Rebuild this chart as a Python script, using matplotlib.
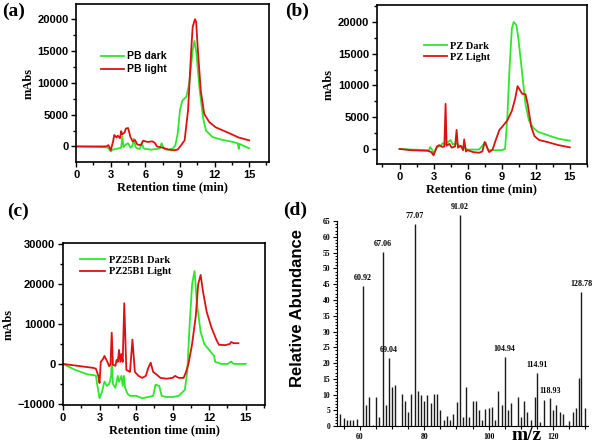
import numpy as np
import matplotlib
matplotlib.use("Agg")
import matplotlib.pyplot as plt
from matplotlib.ticker import MultipleLocator

GREEN = "#2ee62e"
RED = "#dd1111"
SERIF = "Liberation Serif"
SANS = "Liberation Sans"

# ---- (a) PB ----
a_t_dark = [0, 1, 2, 2.7, 2.85, 3.0, 3.15, 3.4, 3.7, 3.9, 4.0, 4.1, 4.3, 4.5, 4.7,
            4.85, 5.0, 5.15, 5.3, 5.5, 5.7, 5.85, 6.0, 6.5, 7.0, 7.25, 7.4, 7.6, 7.8,
            8.0, 8.4, 8.6, 8.8, 9.0, 9.2, 9.55, 9.8, 10.1, 10.25, 10.4, 10.7, 11.0,
            11.25, 11.8, 12.5, 13.6, 14.0, 14.1, 14.15, 15.0]
a_y_dark = [0, -50, -100, -150, -400, -800, -500, -400, -300, -200, 1600, -100, 300,
            500, -200, 0, 1200, -100, -300, -400, 500, -300, -400, -500, -400, -300,
            500, -300, -500, -500, -300, 200, 2000, 5700, 7200, 7800, 9900, 15100,
            16600, 15000, 9000, 4500, 2500, 1500, 1100, 700, 500, -400, 400, -300]
a_t_light = [0, 1, 2, 2.6, 2.8, 3.0, 3.2, 3.3, 3.5, 3.6, 3.8, 3.9, 4.0, 4.2, 4.3,
             4.5, 4.7, 4.9, 5.1, 5.3, 5.6, 5.8, 6.2, 6.6, 6.8, 7.0, 7.5, 8.0, 8.5,
             8.8, 9.1, 9.4, 9.7, 9.97, 10.1, 10.3, 10.4, 10.55, 10.8, 11.1, 11.55,
             12.1, 13.0, 14.1, 15.0]
a_y_light = [0, 0, 0, 0, 200, -600, 800, 1800, 1400, 1700, 1300, 2400, 1900, 2200,
             2800, 2900, 1500, 800, 1000, 300, 200, 900, 700, 800, 600, 0, -200, -500,
             -600, -500, 200, 950, 5700, 15100, 18800, 20000, 19600, 15100, 8800,
             5100, 3800, 3000, 2300, 1400, 950]

# ---- (b) PZ ----
b_t_dark = [0, 1, 2, 2.6, 2.7, 2.9, 3.0, 3.3, 3.6, 3.8, 4.0, 4.2, 4.5, 4.7, 5.0,
            5.3, 5.6, 6.0, 6.5, 7.0, 7.4, 7.6, 7.8, 8.0, 8.5, 9.0, 9.3, 9.5, 9.7,
            9.9, 10.06, 10.3, 10.5, 10.8, 11.1, 11.4, 11.8, 12.2, 13.0, 14.0, 15.0]
b_y_dark = [0, -100, -150, -200, 300, -200, -800, 300, 400, 900, 700, 1000, 1400,
            700, 900, 500, 300, -100, -100, -100, 700, 1000, -200, -200, -200, -200,
            0, 5000, 13000, 19000, 20000, 19500, 17000, 12000, 7000, 4500, 3300,
            2700, 2200, 1600, 1300]
b_t_light = [0, 1, 2.5, 2.8, 3.0, 3.3, 3.5, 3.8, 3.95, 4.06, 4.15, 4.4, 4.6, 4.9,
             5.03, 5.15, 5.4, 5.6, 5.7, 5.85, 6.0, 6.5, 7.0, 7.3, 7.5, 7.7, 7.9, 8.2,
             8.5, 8.8, 9.1, 9.5, 9.9, 10.2, 10.4, 10.6, 10.8, 11.1, 11.3, 11.6, 11.9,
             12.3, 13.0, 14.0, 15.0]
b_y_light = [0, -200, -300, -500, -1000, 400, 600, 300, 400, 7100, 500, 800, 200,
             400, 3000, 200, 500, -200, 1500, -400, -200, -500, -600, -400, 1100, 300,
             -500, -100, 1500, 3000, 3600, 4500, 6000, 8000, 9900, 9300, 8700, 8600,
             7000, 3500, 2000, 1400, 1100, 600, 250]

# ---- (c) PZ25B1 ----
c_t_dark = [0, 1, 2, 2.7, 2.8, 3.0, 3.2, 3.4, 3.6, 3.8, 3.95, 4.0, 4.1, 4.3, 4.5,
            4.6, 4.8, 4.9, 5.0, 5.1, 5.3, 5.5, 6.0, 6.5, 7.0, 7.4, 7.6, 7.9, 8.1,
            8.5, 9.0, 9.5, 10.0, 10.2, 10.4, 10.6, 10.8, 11.0, 11.3, 11.6, 12.0,
            12.4, 12.5, 13.0, 13.5, 13.8, 14.0, 15.0]
c_y_dark = [0, -1500, -2600, -2900, -5000, -8600, -7000, -4400, -5500, -5000, -3000,
            1000, -5000, -6000, -3000, -4500, -3000, -5500, -3000, -6000, -7500, -8000,
            -8000, -8600, -8300, -8000, -5200, -5500, -8000, -8300, -8300, -8000,
            -6500, -2000, 10000, 20000, 23300, 15000, 8000, 5000, 3500, 2000, 500, 0,
            0, 600, 0, 0]
c_t_light = [0, 1, 2, 2.5, 2.7, 2.9, 3.0, 3.1, 3.3, 3.4, 3.6, 3.8, 3.9, 4.0, 4.1,
             4.3, 4.4, 4.5, 4.6, 4.7, 4.8, 4.9, 5.03, 5.2, 5.5, 5.7, 5.9, 6.2, 6.5,
             6.8, 7.0, 7.2, 7.4, 7.7, 8.0, 8.5, 9.0, 9.2, 9.5, 9.9, 10.1, 10.3, 10.6,
             10.9, 11.1, 11.3, 11.5, 11.8, 12.2, 12.6, 12.8, 13.3, 13.7, 13.8, 14.0,
             14.4]
c_y_light = [0, -400, -800, -1000, -1200, -3000, -4800, 500, 1300, 2000, 800, -600,
             0, 7800, -200, -500, 1000, 500, 3500, 500, 2500, 500, 15200, -1500,
             -2000, 6100, -2000, -3000, -3500, -3000, -1000, 300, -2000, -2700, -3500,
             -3700, -3500, -3000, -3500, -3500, -2000, 0, 5000, 12000, 20000, 22300,
             18000, 13000, 9000, 6000, 4800, 4700, 5000, 5500, 5200, 5200]

# ---- (d) mass spectrum ----
mz = [54, 55, 56, 57, 58, 59, 60.92, 62, 63, 64, 65, 66, 67.06, 68, 69.04, 70, 71,
      73, 74, 75, 76, 77.07, 78, 79, 80, 81, 82, 83, 84, 85, 86, 87, 88, 89, 90.3,
      91.02, 92, 93, 94, 95, 96, 97, 98, 99, 100, 101, 102, 103, 104, 104.94, 106,
      107, 109, 110, 111, 112, 113, 114.5, 114.91, 116, 117, 118.93, 120, 121, 122,
      123, 124, 125, 126, 127, 128, 128.78, 130]
abund = [3.7, 2.6, 2.1, 2.1, 2.1, 2.3, 44.5, 6.6, 9.4, 0.4, 9.4, 3.0, 55.2, 6.6,
         21.6, 12.4, 13.2, 10.3, 8.0, 4.4, 10.2, 64.2, 11.2, 9.8, 8.0, 9.8, 7.4, 10.1,
         10.1, 5.0, 1.8, 3.3, 1.8, 4.0, 7.8, 67.0, 3.0, 12.3, 3.0, 7.9, 7.9, 5.1, 2.1,
         5.4, 5.9, 6.2, 2.1, 11.0, 6.7, 21.9, 5.1, 7.4, 9.4, 3.0, 8.0, 4.4, 2.1, 9.3,
         16.9, 1.4, 8.2, 8.8, 5.1, 6.6, 4.5, 3.8, 0.5, 1.7, 4.5, 5.9, 15.2, 42.5, 5.7]
peak_labels = ["60.92", "67.06", "69.04", "77.07", "91.02", "104.94", "114.91",
               "118.93", "128.78"]

fig = plt.figure(figsize=(6.0, 4.43), dpi=100)


def style_chrom(ax, xlim, ylim, ymaj, ymin):
    ax.set_xlim(*xlim)
    ax.set_ylim(*ylim)
    ax.xaxis.set_major_locator(MultipleLocator(3))
    ax.xaxis.set_minor_locator(MultipleLocator(1.5))
    ax.yaxis.set_major_locator(MultipleLocator(ymaj))
    ax.yaxis.set_minor_locator(MultipleLocator(ymin))
    ax.tick_params(which="both", direction="out", top=False, right=False, width=1.0)
    ax.tick_params(which="major", length=3.5, labelsize=8, pad=2)
    ax.tick_params(which="minor", length=2)
    for lab in ax.get_xticklabels() + ax.get_yticklabels():
        lab.set_fontfamily(SANS)
        lab.set_fontweight("bold")
    for sp in ax.spines.values():
        sp.set_linewidth(1.2)
    ax.set_xlabel("Retention time (min)", family=SERIF, fontweight="bold",
                  fontsize=9, labelpad=1)
    ax.set_ylabel("mAbs", family=SERIF, fontweight="bold", fontsize=9, labelpad=2)


# (a)
ax = fig.add_axes([0.127, 0.634, 0.321, 0.357])
ax.plot(a_t_dark, a_y_dark, color=GREEN, lw=1.3, label="PB dark")
ax.plot(a_t_light, a_y_light, color=RED, lw=1.3, label="PB light")
style_chrom(ax, (0, 16.7), (-2470, 22400), 5000, 2500)
ax.legend(loc="upper left", bbox_to_anchor=(0.08, 0.76), frameon=False,
          handlelength=2.2, handletextpad=0.3, labelspacing=0.3,
          prop={"family": SANS, "weight": "bold", "size": 7.5})
fig.text(0.022, 0.975, "(a)", family=SERIF, fontweight="bold", fontsize=14,
         ha="center", va="center")

# (b)
ax = fig.add_axes([0.628, 0.630, 0.350, 0.359])
ax.plot(b_t_dark, b_y_dark, color=GREEN, lw=1.3, label="PZ Dark")
ax.plot(b_t_light, b_y_light, color=RED, lw=1.3, label="PZ Light")
style_chrom(ax, (-2, 16.5), (-2360, 22700), 5000, 2500)
ax.legend(loc="upper left", bbox_to_anchor=(0.18, 0.83), frameon=False,
          handlelength=2.2, handletextpad=0.3, labelspacing=0.2,
          prop={"family": SERIF, "weight": "bold", "size": 7.5})
fig.text(0.495, 0.975, "(b)", family=SERIF, fontweight="bold", fontsize=14,
         ha="center", va="center")

# (c)
ax = fig.add_axes([0.105, 0.086, 0.337, 0.365])
ax.plot(c_t_dark, c_y_dark, color=GREEN, lw=1.3, label="PZ25B1 Dark")
ax.plot(c_t_light, c_y_light, color=RED, lw=1.3, label="PZ25B1 Light")
style_chrom(ax, (0, 16.6), (-10270, 30250), 10000, 5000)
ax.legend(loc="upper left", bbox_to_anchor=(0.04, 0.98), frameon=False,
          handlelength=2.4, handletextpad=0.3, labelspacing=0.2,
          prop={"family": SERIF, "weight": "bold", "size": 7.5})
fig.text(0.03, 0.522, "(c)", family=SERIF, fontweight="bold", fontsize=14,
         ha="center", va="center")

# (d)
ax = fig.add_axes([0.562, 0.038, 0.418, 0.463])
ax.vlines(mz, 0, abund, color="#1a1a1a", lw=1.0, clip_on=False)
ax.set_xlim(53, 130.8)
ax.set_ylim(0, 65)
ax.yaxis.set_major_locator(MultipleLocator(5))
ax.yaxis.set_minor_locator(MultipleLocator(1))
ax.xaxis.set_major_locator(MultipleLocator(20))
ax.xaxis.set_minor_locator(MultipleLocator(5))
ax.tick_params(which="both", direction="out", width=0.8)
ax.tick_params(which="major", length=3, labelsize=5.5, pad=2)
ax.tick_params(which="minor", length=1.8)
for lab in ax.get_xticklabels() + ax.get_yticklabels():
    lab.set_fontfamily(SERIF)
    lab.set_fontweight("bold")
ax.spines["top"].set_visible(False)
ax.spines["right"].set_visible(False)
for m, h in zip(mz, abund):
    lab = f"{m:.2f}"
    if lab in peak_labels:
        ax.text(m, h + 1.2, lab, ha="center", va="bottom", family=SERIF,
                fontweight="bold", fontsize=5.8, clip_on=False)
fig.text(298 / 600, 1 - 308 / 443, "Relative Abundance", rotation=90,
         family=SANS, fontweight="bold", fontsize=12, ha="center", va="center")
fig.text(527 / 600, 0.006, "m/z", ha="center", va="baseline", family=SERIF,
         fontweight="bold", fontsize=14)
fig.text(0.492, 0.525, "(d)", family=SERIF, fontweight="bold", fontsize=14,
         ha="center", va="center")

fig.savefig("out.png", dpi=100)
